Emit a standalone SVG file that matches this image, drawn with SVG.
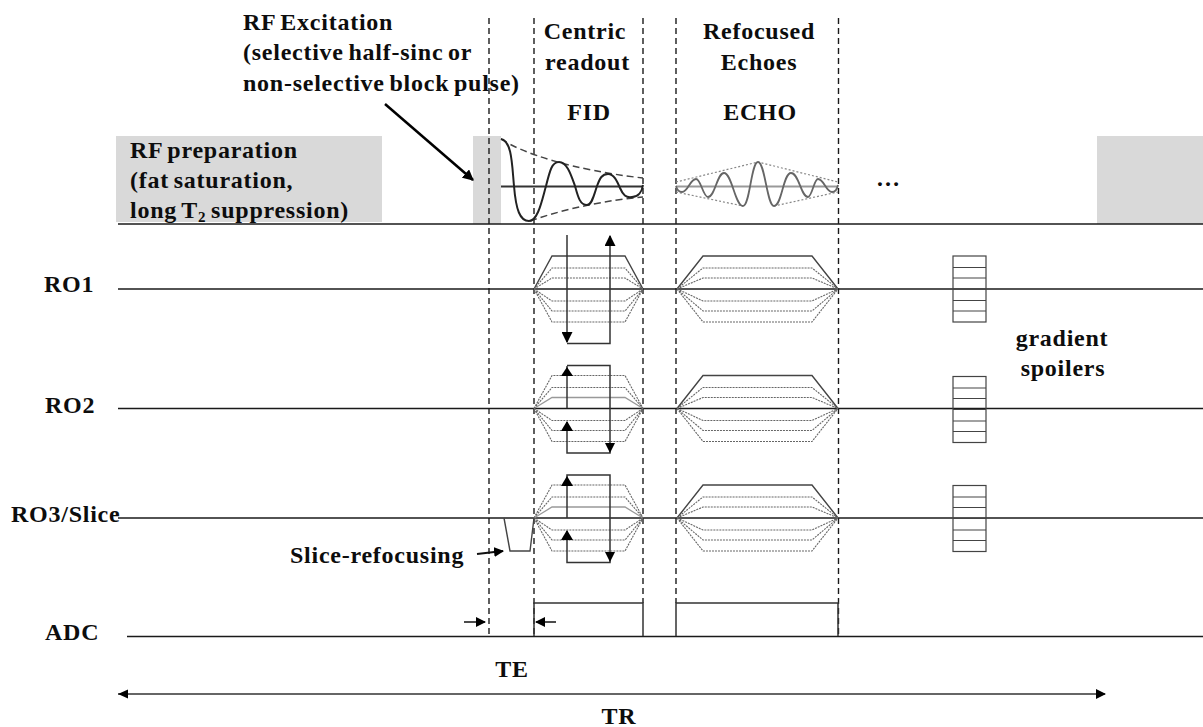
<svg xmlns="http://www.w3.org/2000/svg" width="1203" height="727" viewBox="0 0 1203 727">
<style>
text{font-family:"Liberation Serif","Times New Roman",serif;font-weight:bold;font-size:24px;letter-spacing:.75px;word-spacing:-2px;fill:#0d0d0d}
.m{text-anchor:middle}
line,path,polyline,rect{fill:none}
.ax{stroke:#1a1a1a;stroke-width:1.5}
.dash{stroke:#1a1a1a;stroke-width:1.4;stroke-dasharray:6 4}
.bar{fill:#d9d9d9;stroke:none}
.solid{stroke:#444;stroke-width:1.4}
.soft{stroke:#999;stroke-width:1.3}
.dot{stroke:#666;stroke-width:1.1;stroke-dasharray:2 1}
.blk{stroke:#333;stroke-width:1.5}
.spoil{stroke:#444;stroke-width:1.2}
</style>
<defs>
<marker id="ah" viewBox="0 0 10 10" refX="9" refY="5" markerWidth="10" markerHeight="10" markerUnits="userSpaceOnUse" orient="auto"><path d="M0,0L10,5L0,10Z" style="fill:#000;stroke:none"/></marker>
<marker id="ab" viewBox="0 0 10 10" refX="9" refY="5" markerWidth="11" markerHeight="11" markerUnits="userSpaceOnUse" orient="auto"><path d="M0,0L10,5L0,10Z" style="fill:#000;stroke:none"/></marker>
<g id="tpl-fid"><path class="solid" d="M534,289L552,256H625L643,289"/><path class="dot" d="M534,289L552,268H625L643,289M534,289L552,278H625L643,289M534,289L552,301H625L643,289M534,289L552,311H625L643,289M534,289L552,322H625L643,289"/></g>
<g id="tpl-fid-d"><path class="soft" d="M534,289L552,278H625L643,289"/><path class="dot" d="M534,289L552,256H625L643,289M534,289L552,268H625L643,289M534,289L552,301H625L643,289M534,289L552,311H625L643,289M534,289L552,322H625L643,289"/></g>
<g id="tpl-echo"><path class="solid" d="M677,289L703,256H812L838,289"/><path class="dot" d="M677,289L703,268H812L838,289M677,289L703,278H812L838,289M677,289L703,301H812L838,289M677,289L703,311H812L838,289M677,289L703,322H812L838,289"/></g>
<g id="tpl-spoil"><rect class="spoil" x="953" y="256" width="33" height="66"/><path class="spoil" d="M953,267.500H986M953,278H986M953,289H986M953,300.500H986M953,311H986"/></g>
</defs>

<g id="rf-bars">
<rect class="bar" x="116" y="136" width="266" height="86"/>
<rect class="bar" x="473" y="136" width="28" height="88"/>
<rect class="bar" x="1097" y="136" width="106" height="88"/>
</g>

<g id="connectors">
<line class="ax" x1="118" y1="224" x2="1203" y2="224"/>
<line class="ax" x1="118" y1="289" x2="1203" y2="289"/>
<line class="ax" x1="118" y1="408.500" x2="1203" y2="408.500"/>
<line class="ax" x1="118" y1="518" x2="1203" y2="518"/>
<line class="ax" x1="127" y1="636.500" x2="1203" y2="636.500"/>
<line class="dash" x1="489" y1="18" x2="489" y2="638"/>
<line class="dash" x1="534" y1="18" x2="534" y2="638"/>
<line class="dash" x1="643" y1="18" x2="643" y2="603"/>
<line class="dash" x1="676" y1="18" x2="676" y2="603"/>
<line class="dash" x1="838.500" y1="18" x2="838.500" y2="638"/>
<line x1="385" y1="104" x2="473" y2="180" stroke="#000" stroke-width="2.500" marker-end="url(#ab)"/>
<line x1="477" y1="554" x2="503" y2="551" stroke="#111" stroke-width="2" marker-end="url(#ah)"/>
<line x1="464" y1="622" x2="485" y2="622" stroke="#111" stroke-width="1.500" marker-end="url(#ah)"/>
<line x1="556" y1="622" x2="536" y2="622" stroke="#111" stroke-width="1.500" marker-end="url(#ah)"/>
<path d="M118,694H1105" stroke="#333" stroke-width="1.500" marker-end="url(#ah)"/>
<path d="M128,689.500L118,694L128,698.500Z" style="fill:#000"/>
</g>

<g id="fid-signal">
<line x1="501" y1="186.500" x2="643" y2="186.500" stroke="#333" stroke-width="1.800"/>
<path d="M501,139C522,153 572,170 643,178M530,221C570,207 610,200 643,197" stroke="#444" stroke-width="1.500" stroke-dasharray="7 4" fill="none"/>
<path d="M501,139C512,141 512,165 514,186C516,210 520,221 529,221C538,221 542,200 546,186C550,170 552,162 559,162C567,162 571,175 575,186C578,197 580,205 587,205C592,205 594,195 597,186C600,178 602,174 608,174C614,174 617,181 620,188C623,195 626,198 632,197C638,197 642,192 643,185" stroke="#222" stroke-width="2" fill="none"/>
</g>
<g id="echo-signal">
<line x1="676" y1="186.500" x2="838" y2="186.500" stroke="#999" stroke-width="1.800"/>
<path d="M676,182L758,162L838,182M676,192L743,206M774,206L838,192" stroke="#888" stroke-width="1.200" stroke-dasharray="2 2" fill="none"/>
<path d="M676,186C677,190 679,192 682,192C688,192 690,179 696,179C701,179 703,197 708,197C715,197 717,173 724,173C732,173 735,206 743,206C750,206 751,162 758,162C765,162 767,206 774,206C782,206 783,173 791,173C799,173 801,197 808,197C812,197 814,179 818,179C824,179 826,192 832,192C835,192 837,190 838,185" stroke="#666" stroke-width="1.800" fill="none"/>
</g>

<g id="gradients-ro1">
<use href="#tpl-fid"/><use href="#tpl-echo"/><use href="#tpl-spoil"/>
<path class="blk" d="M567,235V342" marker-end="url(#ab)"/>
<path class="blk" d="M567,343.500H610V236" marker-end="url(#ab)"/>
</g>
<g id="gradients-ro2">
<use href="#tpl-fid-d" y="119.500"/><use href="#tpl-echo" y="119.500"/><use href="#tpl-spoil" y="120.500"/>
<path class="blk" d="M567,408V366"/>
<path d="M561,376L567,367L573,376Z" style="fill:#000"/>
<path class="blk" d="M567,365.500H610V453H567V422"/>
<path d="M605,443L610,453L615,443Z" style="fill:#000"/>
<path d="M561,431L567,421L573,431Z" style="fill:#000"/>
</g>
<g id="gradients-ro3">
<use href="#tpl-fid-d" y="229"/><use href="#tpl-echo" y="229"/><use href="#tpl-spoil" y="229.500"/>
<path class="blk" d="M567,518V475H610V562.500H567V531"/>
<path d="M561,486L567,476L573,486Z" style="fill:#000"/>
<path d="M605,552L610,562L615,552Z" style="fill:#000"/>
<path d="M561,540L567,530L573,540Z" style="fill:#000"/>
<path class="solid" d="M504,518L510,551H530L534,518"/>
</g>
<g id="adc">
<path class="blk" d="M534,636V603H643V636"/>
<path class="blk" d="M676,636V603H838V636"/>
</g>

<g id="labels">
<text x="243" y="30">RF Excitation</text>
<text x="243" y="60">(selective half-sinc or</text>
<text x="243" y="91">non-selective block pulse)</text>
<text x="585" y="39" class="m">Centric</text>
<text x="587.500" y="70" class="m">readout</text>
<text x="759" y="39" class="m">Refocused</text>
<text x="759" y="70" class="m">Echoes</text>
<text x="589" y="120" class="m">FID</text>
<text x="760" y="120" class="m">ECHO</text>
<text x="130" y="158">RF preparation</text>
<text x="130" y="188">(fat saturation,</text>
<text x="130" y="218">long T<tspan font-size="15" dy="4">2</tspan><tspan dy="-4"> suppression)</tspan></text>
<text x="876" y="186">…</text>
<text x="44" y="292">RO1</text>
<text x="45" y="413">RO2</text>
<text x="11" y="522">RO3/Slice</text>
<text x="290" y="563">Slice-refocusing</text>
<text x="45" y="640">ADC</text>
<text x="512" y="677" class="m">TE</text>
<text x="619" y="724" class="m">TR</text>
<text x="1062" y="346" class="m">gradient</text>
<text x="1063" y="376" class="m">spoilers</text>
</g>
</svg>
